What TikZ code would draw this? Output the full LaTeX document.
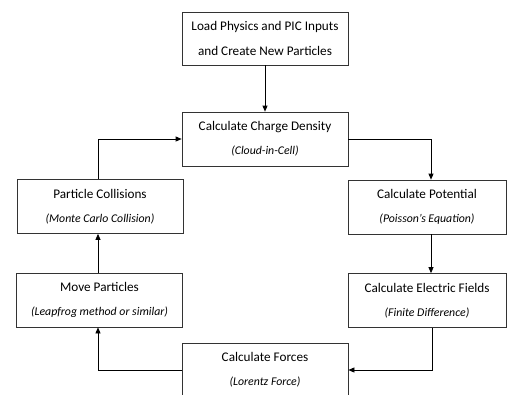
\documentclass[tikz,border=0pt]{standalone}
\usepackage{fontspec}
\setmainfont{Carlito}
\usetikzlibrary{arrows.meta}
\begin{document}
\begin{tikzpicture}[x=1pt,y=-1pt,
  box/.style={draw=black!80, line width=0.7pt, minimum height=54pt, inner sep=0pt,
    align=center, text=black, font=\fontsize{13.2}{23}\selectfont},
  wbox/.style={box, minimum width=166pt},
  rbox/.style={box, minimum width=158pt},
  link/.style={draw=black, line width=0.7pt, -{Triangle[length=6pt,width=5pt]}}]
\useasboundingbox (0,0) rectangle (508,394);
\clip (0,0) rectangle (508,394);
\newcommand{\subt}[1]{\\[1pt]{\itshape\fontsize{11.8}{12}\selectfont #1}}
\node[wbox, minimum height=53pt, font=\fontsize{13.2}{24.5}\selectfont] (load) at (265,38.5) {Load Physics and PIC Inputs\\and Create New Particles};
\node[wbox] (charge) at (265,139) {Calculate Charge Density\subt{(Cloud-in-Cell)}};
\node[rbox] (pot) at (427,207) {Calculate Potential\subt{(Poisson’s Equation)}};
\node[rbox] (elec) at (427,300.5) {Calculate Electric Fields\subt{(Finite Difference)}};
\node[wbox] (forces) at (265,370) {Calculate Forces\subt{(Lorentz Force)}};
\node[wbox] (move) at (99.5,300) {Move Particles\subt{(Leapfrog method or similar)}};
\node[wbox] (coll) at (100,206.5) {Particle Collisions\subt{(Monte Carlo Collision)}};
\draw[link] (load.south) -- (charge.north);
\draw[link] (charge.east) -| ([xshift=4pt]pot.north);
\draw[link] (pot.south) ++(4pt,0) coordinate (p1) -- (p1 |- elec.north);
\draw[link] ([xshift=5pt]elec.south) |- (forces.east);
\draw[link] (forces.west) -| ([xshift=-1.5pt]move.south);
\draw[link] ([xshift=-1.5pt]move.north) -- ([xshift=-2pt]coll.south);
\draw[link] ([xshift=-2pt]coll.north) |- (charge.west);
\end{tikzpicture}
\end{document}
